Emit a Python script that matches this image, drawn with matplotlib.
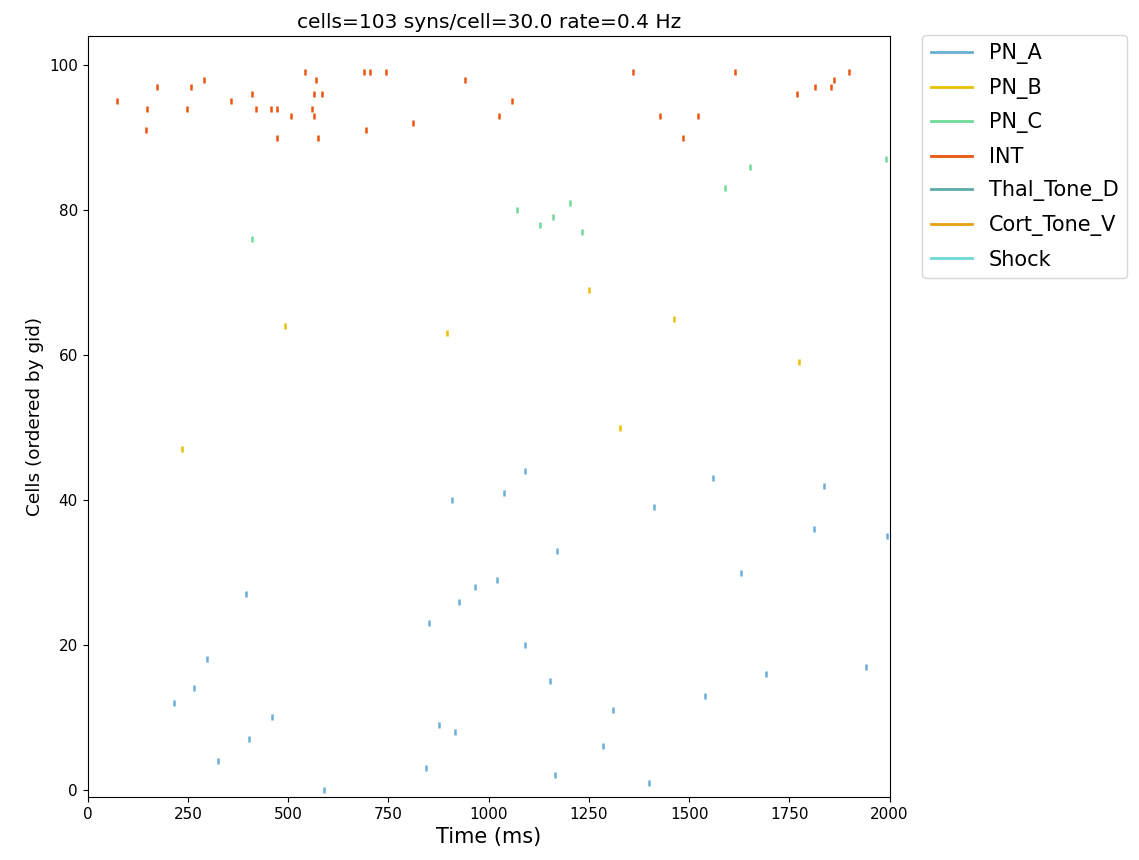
import numpy as np
import matplotlib
matplotlib.use("Agg")
import matplotlib.pyplot as plt
from matplotlib.lines import Line2D

# populations and colours
pops = ["PN_A", "PN_B", "PN_C", "INT", "Thal_Tone_D", "Cort_Tone_V", "Shock"]
colors = ["#6aaed8", "#e8c000", "#6edb98", "#ec5510", "#5aaaaa", "#e8a012", "#6ed8d8"]

pn_a_t = [394, 908, 967, 1020, 927, 1091, 1038, 1559, 1836, 1412, 1170, 1811, 1994,
          1630, 852, 297, 266, 214, 460, 403, 876, 917, 325, 845, 590, 1091, 1154,
          1310, 1285, 1166, 1400, 1540, 1692, 1942]
pn_a_id = [27, 40, 28, 29, 26, 44, 41, 43, 42, 39, 33, 36, 35,
           30, 23, 18, 14, 12, 10, 7, 9, 8, 4, 3, 0, 20, 15,
           11, 6, 2, 1, 13, 16, 17]

pn_b_t = [234, 492, 896, 1251, 1328, 1462, 1773]
pn_b_id = [47, 64, 63, 69, 50, 65, 59]

pn_c_t = [411, 1070, 1127, 1160, 1204, 1234, 1589, 1653, 1990]
pn_c_id = [76, 80, 78, 79, 81, 77, 83, 86, 87]

int_t = [72, 145, 148, 172, 247, 257, 289, 358, 409, 421, 456, 471, 471, 506, 541,
         559, 565, 569, 565, 574, 584, 690, 693, 703, 743, 811, 942,
         1026, 1058, 1359, 1428, 1484, 1521, 1615, 1770, 1814, 1854, 1861, 1898]
int_id = [95, 91, 94, 97, 94, 97, 98, 95, 96, 94, 94, 90, 94, 93, 99,
          94, 96, 98, 93, 90, 96, 99, 91, 99, 99, 92, 98,
          93, 95, 99, 93, 90, 93, 99, 96, 97, 97, 98, 99]

spikes = {
    "PN_A": (pn_a_t, pn_a_id),
    "PN_B": (pn_b_t, pn_b_id),
    "PN_C": (pn_c_t, pn_c_id),
    "INT": (int_t, int_id),
}

fig = plt.figure(figsize=(11.39, 8.6), dpi=100)
ax = fig.add_axes([0.077, 0.073, 0.704, 0.885])

for p, c in zip(pops, colors):
    if p in spikes:
        t, g = spikes[p]
        ax.scatter(t, g, marker="|", s=24, linewidths=1.8, color=c)

ax.set_xlim(0, 2000)
ax.set_ylim(-1, 104)
ax.set_xticks([0, 250, 500, 750, 1000, 1250, 1500, 1750, 2000])
ax.tick_params(labelsize=11)
ax.set_xlabel("Time (ms)", fontsize=15)
ax.set_ylabel("Cells (ordered by gid)", fontsize=13.3)
ax.set_title("cells=103 syns/cell=30.0 rate=0.4 Hz", fontsize=14.5)

handles = [Line2D([0], [0], color=c, lw=2) for c in colors]
ax.legend(handles, pops, loc="upper left", bbox_to_anchor=(1.041, 1.0015),
          borderaxespad=0, fontsize=15, handlelength=2, labelspacing=0.65)

fig.savefig("out.png", dpi=100)
